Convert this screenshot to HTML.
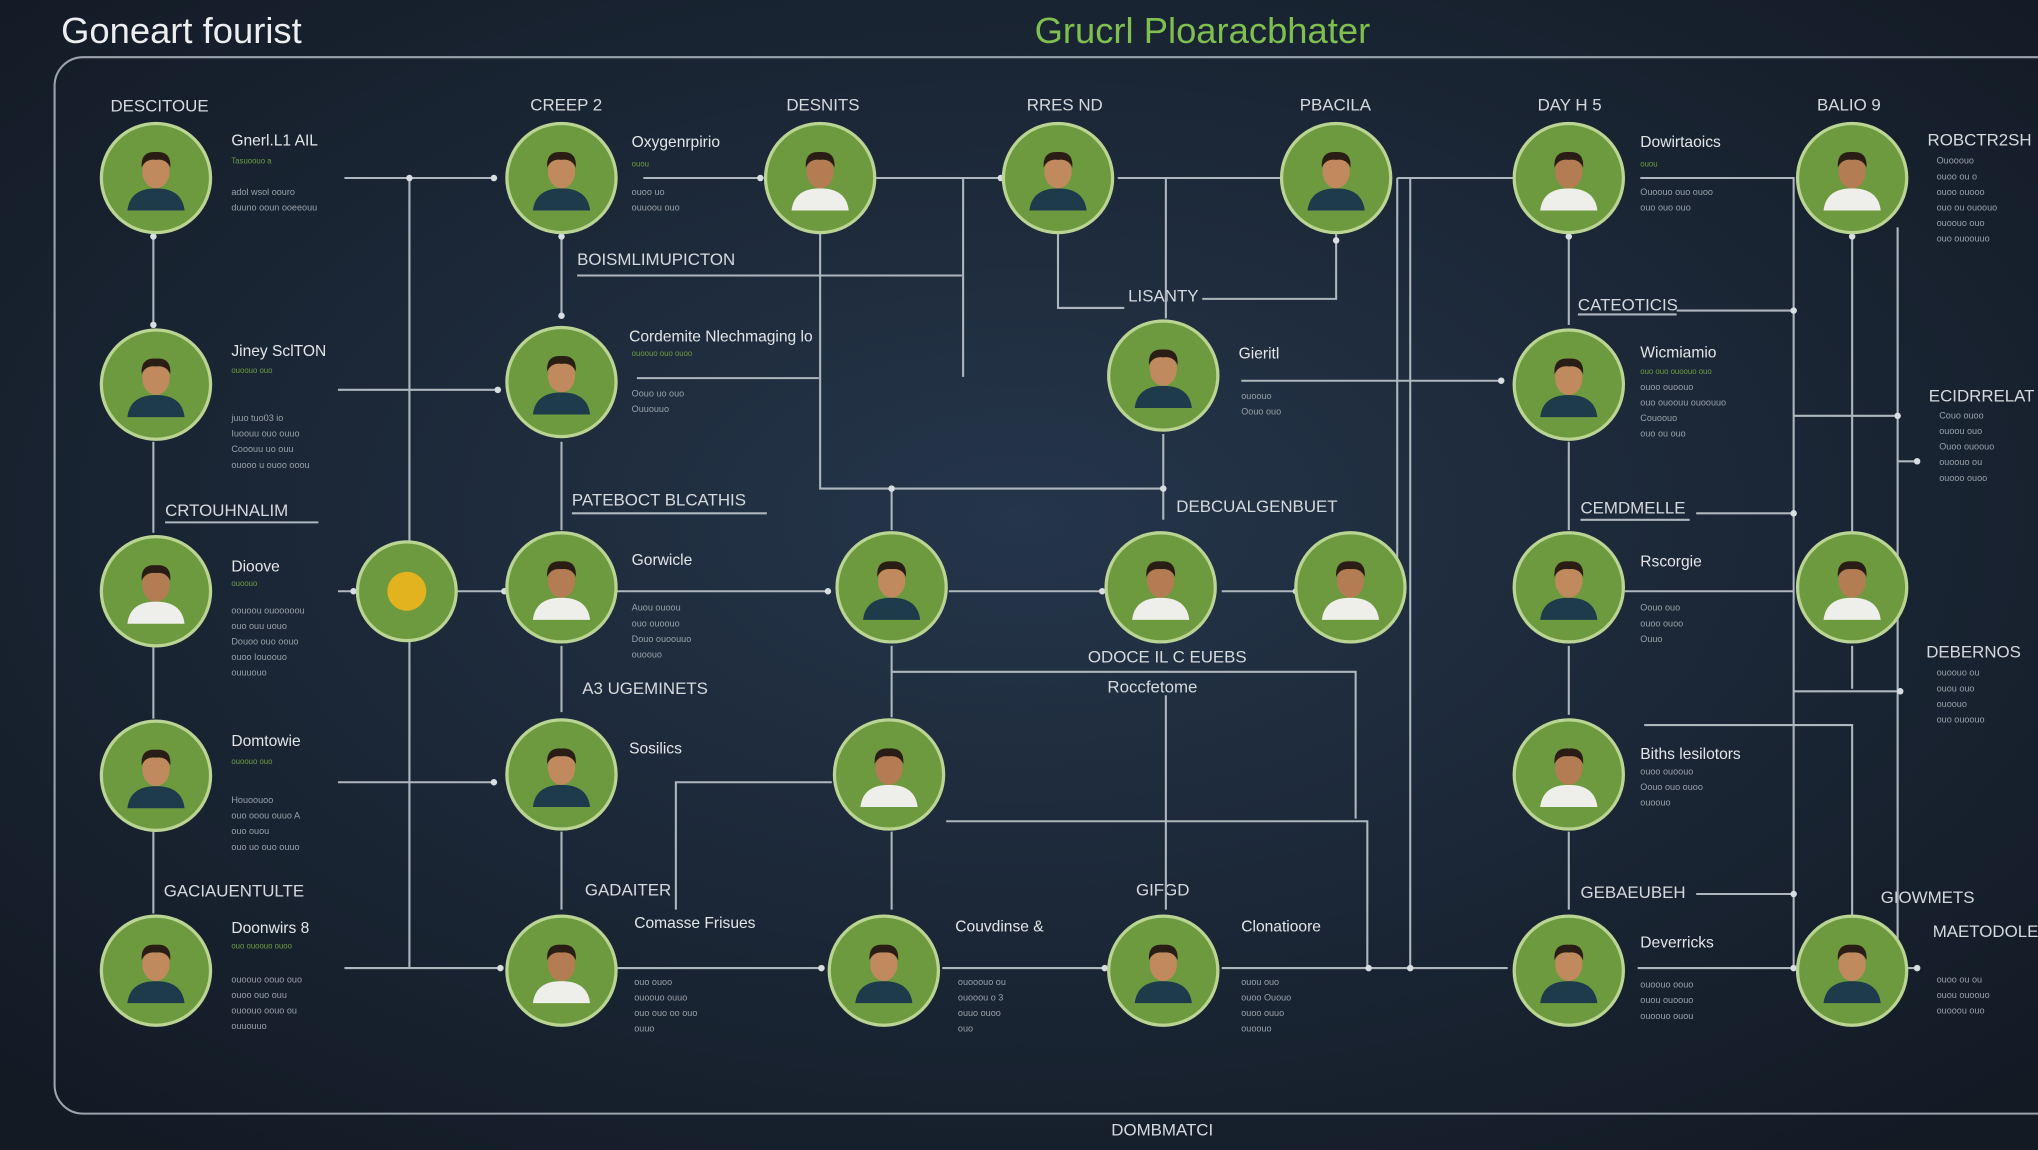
<!DOCTYPE html>
<html><head><meta charset="utf-8"><style>
html,body{margin:0;padding:0;background:#141c26;}
svg{display:block}
text{font-family:"Liberation Sans",sans-serif}
.h{fill:#d6dade;font-size:13px}
.t{fill:#e4e6e8;font-size:12px}
.s{fill:#9aa2aa;font-size:7px}
.g{fill:#6e9c3f;font-size:6px}
.ln{stroke:#aeb6be;stroke-width:1.6;fill:none}
</style></head><body>
<svg width="2038" height="1150" viewBox="0 0 1568 885" preserveAspectRatio="none" xmlns="http://www.w3.org/2000/svg">
<defs>
<radialGradient id="bg" cx="50%" cy="45%" r="70%">
<stop offset="0" stop-color="#25354a"/><stop offset="1" stop-color="#121a24"/>
</radialGradient>
<g id="n">
<circle r="42" fill="#6e9a3f" stroke="#b9d493" stroke-width="2.5"/>
<path d="M-22 25 Q-20 8 0 8 Q20 8 22 25 Z" fill="#1e3b4c"/>
<ellipse cx="0" cy="-5" rx="10.5" ry="13" fill="#c08a5e"/>
<path d="M-11 -8 Q-12 -21 0 -20 Q12 -21 11 -8 Q8 -15 0 -14 Q-8 -15 -11 -8Z" fill="#2a1d15"/>
</g>
<g id="w">
<circle r="42" fill="#6e9a3f" stroke="#b9d493" stroke-width="2.5"/>
<path d="M-22 25 Q-20 8 0 8 Q20 8 22 25 Z" fill="#eeeeea"/>
<ellipse cx="0" cy="-5" rx="10.5" ry="13" fill="#b47c52"/>
<path d="M-11 -8 Q-12 -21 0 -20 Q12 -21 11 -8 Q8 -15 0 -14 Q-8 -15 -11 -8Z" fill="#2a1d15"/>
</g>
</defs>
<rect width="1568" height="885" fill="url(#bg)"/>
<rect x="42" y="44" width="1560" height="813" rx="22" fill="none" stroke="#9aa4ad" stroke-width="1.6"/>
<text x="47" y="33" font-size="28" fill="#eceef0">Goneart fourist</text>
<text x="796" y="33" font-size="28" fill="#7fbf4f">Grucrl Ploaracbhater</text>

<g class="h">
<text x="85" y="86">DESCITOUE</text><text x="408" y="85">CREEP 2</text><text x="605" y="85">DESNITS</text>
<text x="790" y="85">RRES ND</text><text x="1000" y="85">PBACILA</text><text x="1183" y="85">DAY H 5</text><text x="1398" y="85">BALIO 9</text>
<text x="444" y="204">BOISMLIMUPICTON</text><text x="868" y="232">LISANTY</text><text x="1214" y="239">CATEOTICIS</text>
<text x="127" y="397">CRTOUHNALIM</text><text x="440" y="389">PATEBOCT BLCATHIS</text><text x="905" y="394">DEBCUALGENBUET</text>
<text x="1216" y="395">CEMDMELLE</text><text x="448" y="534">A3 UGEMINETS</text><text x="837" y="510">ODOCE IL C EUEBS</text>
<text x="852" y="533">Roccfetome</text><text x="126" y="690">GACIAUENTULTE</text><text x="450" y="689">GADAITER</text>
<text x="874" y="689">GIFGD</text><text x="1216" y="691">GEBAEUBEH</text><text x="1483" y="112">ROBCTR2SH</text>
<text x="1484" y="309">ECIDRRELAT</text><text x="1482" y="506">DEBERNOS</text><text x="1447" y="695">GIOWMETS</text>
<text x="1487" y="721">MAETODOLE</text><text x="855" y="874">DOMBMATCI</text>
</g>
<g class="ln">
<path d="M444 212H740M1214 242H1290M127 402H245M440 395H590M1216 400H1300"/>
<path d="M118 180V252M118 340V410M118 498V553M118 640V703"/>
<path d="M265 137H380M315 137V745M260 300H383M260 455H275M352 455H388M260 602H380M265 745H385"/>
<path d="M432 180V245M432 340V408M432 497V548M432 640V700"/>
<path d="M495 137H585M741 137V290M673 137H770M490 291H630M631 180V376H893M686 376V408"/>
<path d="M860 137H985M897 137V245M814 180V237H865M925 230H1028V180M895 334V400"/>
<path d="M474 455H637M730 455H848M940 455H997M1075 137V455M1075 137H1165"/>
<path d="M686 497V552M686 517H1043V630M728 632H1052V745M520 700V602H640M686 640V700M897 535V700"/>
<path d="M474 745H632M725 745H850M940 745H1160M1085 137V745"/>
<path d="M1207 180V250M1207 340V408M1207 497V550M1207 640V700"/>
<path d="M1262 137H1380V745M1290 239H1380M955 293H1155M1250 455H1380M1305 395H1380M1265 558H1425V705M1305 688H1380M1260 745H1380"/>
<path d="M1425 180V410M1425 497V530M1380 532H1462M1460 175V745M1380 320H1460M1460 355H1475M1460 745H1475"/>
</g>
<g fill="#d8dde2">
<circle cx="315" cy="137" r="2.5"/><circle cx="380" cy="137" r="2.5"/><circle cx="383" cy="300" r="2.5"/><circle cx="118" cy="182" r="2.5"/><circle cx="118" cy="250" r="2.5"/>
<circle cx="432" cy="182" r="2.5"/><circle cx="432" cy="243" r="2.5"/><circle cx="585" cy="137" r="2.5"/><circle cx="770" cy="137" r="2.5"/>
<circle cx="686" cy="376" r="2.5"/><circle cx="895" cy="376" r="2.5"/><circle cx="1028" cy="185" r="2.5"/><circle cx="637" cy="455" r="2.5"/>
<circle cx="848" cy="455" r="2.5"/><circle cx="997" cy="455" r="2.5"/><circle cx="388" cy="455" r="2.5"/><circle cx="272" cy="455" r="2.5"/>
<circle cx="380" cy="602" r="2.5"/><circle cx="385" cy="745" r="2.5"/><circle cx="632" cy="745" r="2.5"/><circle cx="850" cy="745" r="2.5"/>
<circle cx="1085" cy="745" r="2.5"/><circle cx="1053" cy="745" r="2.5"/><circle cx="1380" cy="239" r="2.5"/><circle cx="1155" cy="293" r="2.5"/>
<circle cx="1380" cy="395" r="2.5"/><circle cx="1380" cy="688" r="2.5"/><circle cx="1380" cy="745" r="2.5"/><circle cx="1460" cy="320" r="2.5"/>
<circle cx="1475" cy="355" r="2.5"/><circle cx="1475" cy="745" r="2.5"/><circle cx="1462" cy="532" r="2.5"/><circle cx="1207" cy="182" r="2.5"/><circle cx="1425" cy="182" r="2.5"/>
</g>

<use href="#n" x="120" y="137"/><use href="#n" x="120" y="296"/><use href="#w" x="120" y="455"/><use href="#n" x="120" y="597"/><use href="#n" x="120" y="747"/>
<use href="#n" x="432" y="137"/><use href="#n" x="432" y="294"/><use href="#w" x="432" y="452"/><use href="#n" x="432" y="596"/><use href="#w" x="432" y="747"/>
<circle cx="313" cy="455" r="38" fill="#6e9a3f" stroke="#b9d493" stroke-width="2.5"/><circle cx="313" cy="455" r="15" fill="#e2b21f"/>
<use href="#w" x="631" y="137"/><use href="#n" x="686" y="452"/><use href="#w" x="684" y="596"/><use href="#n" x="680" y="747"/>
<use href="#n" x="814" y="137"/><use href="#n" x="895" y="289"/><use href="#w" x="893" y="452"/><use href="#n" x="895" y="747"/>
<use href="#w" x="1039" y="452"/><use href="#n" x="1028" y="137"/>
<use href="#w" x="1207" y="137"/><use href="#n" x="1207" y="296"/><use href="#n" x="1207" y="452"/><use href="#w" x="1207" y="596"/><use href="#n" x="1207" y="747"/>
<use href="#w" x="1425" y="137"/><use href="#w" x="1425" y="452"/><use href="#n" x="1425" y="747"/>

<g class="t">
<text x="178" y="112">Gnerl.L1 AIL</text><text x="178" y="274">Jiney SclTON</text><text x="178" y="440">Dioove</text><text x="178" y="574">Domtowie</text><text x="178" y="718">Doonwirs 8</text>
<text x="486" y="113">Oxygenrpirio</text><text x="484" y="263">Cordemite Nlechmaging lo</text><text x="486" y="435">Gorwicle</text><text x="484" y="580">Sosilics</text><text x="488" y="714">Comasse Frisues</text>
<text x="735" y="717">Couvdinse &amp;</text><text x="953" y="276">Gieritl</text><text x="955" y="717">Clonatioore</text>
<text x="1262" y="113">Dowirtaoics</text><text x="1262" y="275">Wicmiamio</text><text x="1262" y="436">Rscorgie</text><text x="1262" y="584">Biths lesilotors</text><text x="1262" y="729">Deverricks</text>
</g>
<g class="s">
<text x="178" y="150">adol wsol oouro</text><text x="178" y="162">duuno ooun ooeeouu</text>
<text x="178" y="324">juuo tuo03 io</text><text x="178" y="336">Iuoouu ouo ouuo</text><text x="178" y="348">Cooouu uo ouu</text><text x="178" y="360">ouooo u ouoo ooou</text>
<text x="178" y="472">oouoou ouooooou</text><text x="178" y="484">ouo ouu uouo</text><text x="178" y="496">Douoo ouo oouo</text><text x="178" y="508">ouoo Iouoouo</text><text x="178" y="520">ouuuouo</text>
<text x="178" y="618">Houoouoo</text><text x="178" y="630">ouo ooou ouuo A</text><text x="178" y="642">ouo ouou</text><text x="178" y="654">ouo uo ouo ouuo</text>
<text x="178" y="756">ouoouo oouo ouo</text><text x="178" y="768">ouoo ouo ouu</text><text x="178" y="780">ouoouo oouo ou</text><text x="178" y="792">ouuouuo</text>
<text x="486" y="150">ouoo uo</text><text x="486" y="162">ouuoou ouo</text><text x="486" y="305">Oouo uo ouo</text><text x="486" y="317">Ouuouuo</text>
<text x="486" y="470">Auou ouoou</text><text x="486" y="482">ouo ouoouo</text><text x="486" y="494">Douo ouoouuo</text><text x="486" y="506">ouoouo</text>
<text x="488" y="758">ouo ouoo</text><text x="488" y="770">ouoouo ouuo</text><text x="488" y="782">ouo ouo oo ouo</text><text x="488" y="794">ouuo</text>
<text x="737" y="758">ouooouo ou</text><text x="737" y="770">ouooou o 3</text><text x="737" y="782">ouuo ouoo</text><text x="737" y="794">ouo</text>
<text x="955" y="307">ouoouo</text><text x="955" y="319">Oouo ouo</text>
<text x="955" y="758">ouou ouo</text><text x="955" y="770">ouoo Ououo</text><text x="955" y="782">ouoo ouuo</text><text x="955" y="794">ouoouo</text>
<text x="1262" y="150">Ouoouo ouo ouoo</text><text x="1262" y="162">ouo ouo ouo</text>
<text x="1262" y="300">ouoo ouoouo</text><text x="1262" y="312">ouo ouoouu ouoouuo</text><text x="1262" y="324">Couoouo</text><text x="1262" y="336">ouo ou ouo</text>
<text x="1262" y="470">Oouo ouo</text><text x="1262" y="482">ouoo ouoo</text><text x="1262" y="494">Ouuo</text>
<text x="1262" y="596">ouoo ouoouo</text><text x="1262" y="608">Oouo ouo ouoo</text><text x="1262" y="620">ouoouo</text>
<text x="1262" y="760">ouoouo oouo</text><text x="1262" y="772">ouou ouoouo</text><text x="1262" y="784">ouoouo ouou</text>
<text x="1490" y="126">Ouooouo</text><text x="1490" y="138">ouoo ou o</text><text x="1490" y="150">ouoo ouooo</text><text x="1490" y="162">ouo ou ouoouo</text><text x="1490" y="174">ouoouo ouo</text><text x="1490" y="186">ouo ouoouuo</text>
<text x="1492" y="322">Couo ouoo</text><text x="1492" y="334">ouoou ouo</text><text x="1492" y="346">Ouoo ouoouo</text><text x="1492" y="358">ouoouo ou</text><text x="1492" y="370">ouooo ouoo</text>
<text x="1490" y="520">ouoouo ou</text><text x="1490" y="532">ouou ouo</text><text x="1490" y="544">ouoouo</text><text x="1490" y="556">ouo ouoouo</text>
<text x="1490" y="756">ouoo ou ou</text><text x="1490" y="768">ouou ouoouo</text><text x="1490" y="780">ouooou ouo</text>
</g>
<g class="g">
<text x="178" y="126">Tasuoouo a</text><text x="178" y="287">ouoouo ouo</text><text x="178" y="451">ouoouo</text><text x="178" y="588">ouoouo ouo</text><text x="178" y="730">ouo ouoouo ouoo</text>
<text x="486" y="128">ouou</text><text x="486" y="274">ouoouo ouo ouoo</text><text x="1262" y="128">ouou</text><text x="1262" y="288">ouo ouo ouoouo ouo</text>
</g>
</svg>
</body></html>
